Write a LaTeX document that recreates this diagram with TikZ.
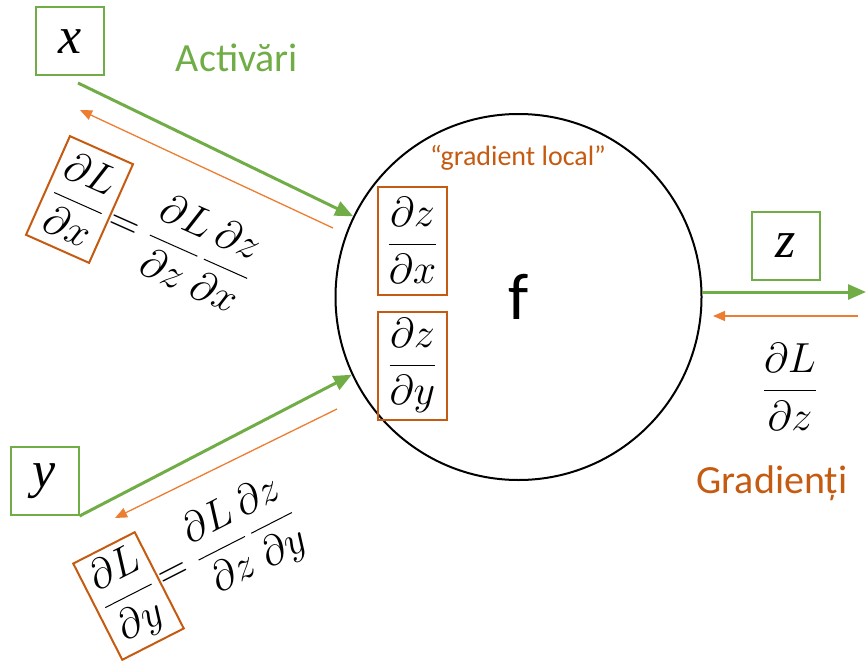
\RequirePackage{fix-cm}
\documentclass[tikz,border=0pt]{standalone}
\usepackage{amsmath}
\usepackage{fontspec}
\setmainfont{Carlito}
\newfontfamily\lsserif{Liberation Serif}
\usetikzlibrary{arrows.meta}
\definecolor{ogreen}{HTML}{70AD47}
\definecolor{oorange}{HTML}{C55A11}
\definecolor{larrow}{HTML}{ED7D31}
\tikzset{
  varbox/.style={draw=ogreen, line width=2pt, minimum width=68pt, minimum height=68pt, inner sep=0pt,
     font=\fontsize{52}{58}\selectfont\lsserif\itshape},
  gradbox/.style={draw=oorange, line width=2pt, minimum width=69pt, minimum height=108pt, inner sep=0pt,
     font=\fontsize{42}{48}\selectfont},
  mathtxt/.style={inner sep=1pt, font=\fontsize{42}{48}\selectfont},
  fwd/.style={draw=ogreen, line width=3pt, -{Triangle[length=18pt,width=15pt]}},
  bwd/.style={draw=larrow, line width=1.3pt, -{Triangle[length=12pt,width=10pt]}},
  lbl/.style={font=\fontsize{40}{48}\selectfont, inner sep=0pt}
}
\begin{document}
\begin{tikzpicture}[x=1pt,y=-1pt]
\useasboundingbox (0,0) rectangle (866,666);
% main circle
\node[circle, draw, line width=2pt, minimum size=366pt, inner sep=0pt,
      font=\fontsize{66}{72}\selectfont] (f) at (518.5,297) {f};
\node[font=\fontsize{28}{32}\selectfont, text=oorange, inner sep=0pt] (loc) at (518,158) {“gradient local”};
\node[gradbox] (dzdx) at (412.5,240.5) {$\displaystyle\frac{\partial z}{\partial x}$};
\node[gradbox] (dzdy) at (412.5,365.5) {$\displaystyle\frac{\partial z}{\partial y}$};
% variables
\node[varbox] (x) at (70,41.5) {x};
\node[varbox] (y) at (44.5,481) {y};
\node[varbox] (z) at (786,246) {z};
% labels
\node[lbl, text=ogreen] (act) at (237,58) {Activări};
\node[lbl, text=oorange] (grd) at (772,483) {Gradienți};
\node[mathtxt] (dLdz) at (790,387) {$\displaystyle\frac{\partial L}{\partial z}$};
% rotated chain rule x
\node[gradbox, rotate=-24] (dLdx) at (79.5,199.5) {$\displaystyle\frac{\partial L}{\partial x}$};
\node[mathtxt, rotate=-24, anchor=west, inner sep=0pt] (rx) at (dLdx.east) {$=\displaystyle\frac{\partial L}{\partial z}\mkern2mu\frac{\partial z}{\partial x}$};
% rotated chain rule y
\node[gradbox, rotate=27] (dLdy) at (128.5,596) {$\displaystyle\frac{\partial L}{\partial y}$};
\node[mathtxt, rotate=27, anchor=west, inner sep=0pt] (ry) at (dLdy.east) {$=\displaystyle\frac{\partial L}{\partial z}\mkern2mu\frac{\partial z}{\partial y}$};
% coordinates
\coordinate (xs) at (78,83);
\coordinate (xbs) at (333,228);
\coordinate (xbe) at (80,110);
\coordinate (ybs) at (337,409);
\coordinate (ybe) at (115,518);
\coordinate (zs) at (702,292);
\coordinate (ze) at (866,292);
\coordinate (zbs) at (858,316);
\coordinate (zbe) at (713,316);
% arrows
\draw[fwd] (xs) -- (f.154.6);
\draw[bwd] (xbs) -- (xbe);
\draw[fwd] (y.south east) -- (f.205.8);
\draw[bwd] (ybs) -- (ybe);
\draw[fwd] (zs) -- (ze);
\draw[bwd] (zbs) -- (zbe);
\end{tikzpicture}
\end{document}
